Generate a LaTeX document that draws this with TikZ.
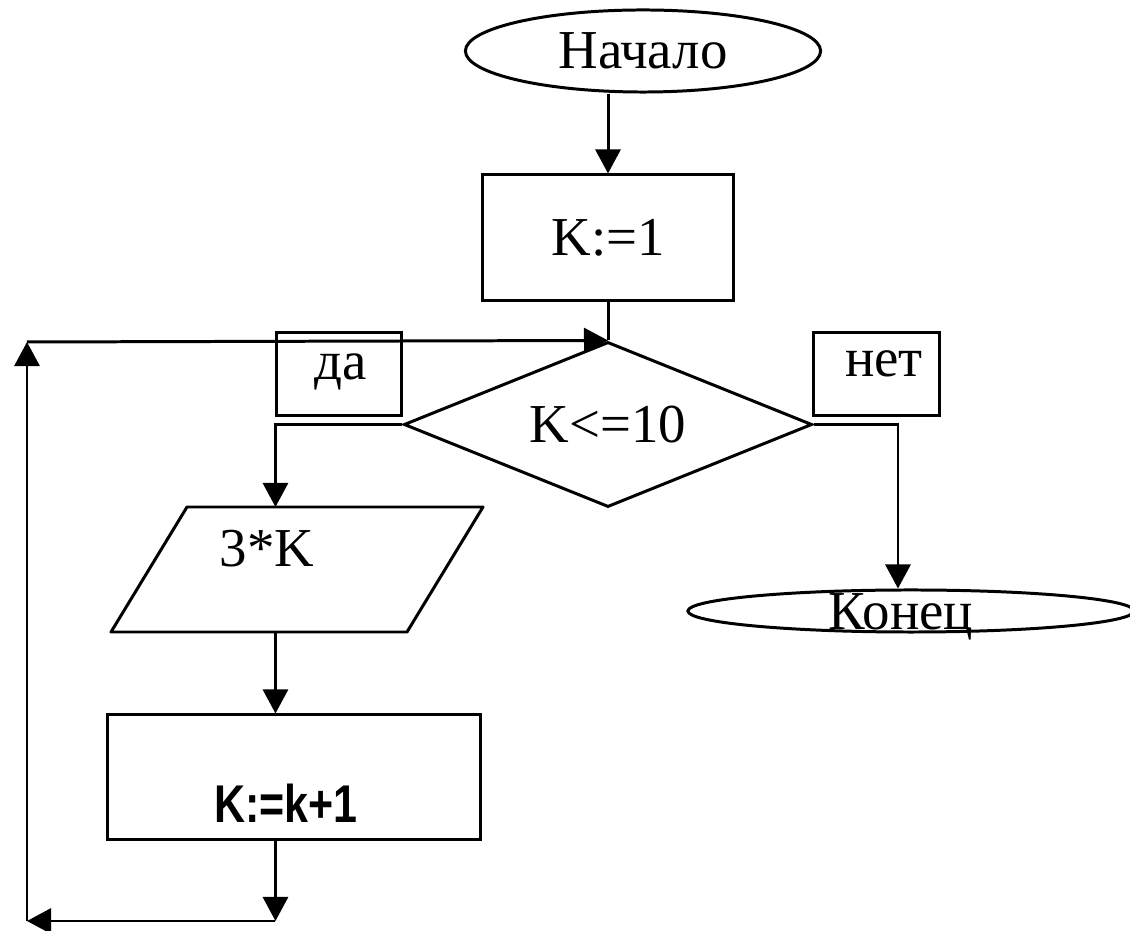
\documentclass[tikz,border=0pt]{standalone}
\usepackage{fontspec}
\setmainfont{Liberation Serif}
\newfontfamily\arialfont{Liberation Sans}
\usetikzlibrary{shapes.geometric,arrows.meta}
\begin{document}
\begin{tikzpicture}[x=0.01cm,y=-0.01cm, line width=0.85pt,
  txt/.style={font=\fontsize{15.6}{18}\selectfont, inner sep=0},
  arr/.style={-{Triangle[length=0.24cm,width=0.25cm]}},
  boxed/.style={draw, rectangle, inner sep=0},
  term/.style={draw, ellipse, inner sep=0},
]
\useasboundingbox (0,0) rectangle (1130,931);
\fill[white] (0,0) rectangle (1130,931);

% terminals
\node[term, txt, minimum width=3.55cm, minimum height=0.82cm] (start) at (643,51) {Начало};
\node[term, minimum width=4.46cm, minimum height=0.42cm] (end) at (911,611) {};
\node[txt, anchor=base] (endtxt) at (901,630) {Конец};

% process boxes
\node[boxed, txt, minimum width=2.51cm, minimum height=1.25cm] (k1) at (608,237.5) {K:=1};
\node[boxed, minimum width=3.72cm, minimum height=1.24cm] (inc) at (294,777) {};
\node[anchor=base, inner sep=0, font=\arialfont\bfseries\fontsize{15.1}{18}\selectfont] (inctxt) at (286,823) {\scalebox{0.81}[1]{K:=k+1}};

% decision
\node[draw, diamond, txt, aspect=2.47, minimum width=4.08cm, minimum height=1.65cm] (cond) at (608,424.5) {K<=10};

% labels in boxes
\node[boxed, minimum width=1.24cm, minimum height=0.82cm] (da) at (339,374) {};
\node[txt, anchor=base] (datxt) at (341,380) {да};
\node[boxed, minimum width=1.25cm, minimum height=0.82cm] (net) at (876.5,374) {};
\node[txt, anchor=base] (nettxt) at (884,377) {нет};

% output parallelogram
\coordinate (ptl) at (187,507);
\coordinate (ptr) at (483,507);
\coordinate (pbr) at (407,632);
\coordinate (pbl) at (111,632);
\draw[line join=round] (ptl) -- (ptr) -- (pbr) -- (pbl) -- cycle;
\node[txt, anchor=base] (outtxt) at (267,567) {3*K};

% connectors
\draw[arr] (k1.north |- start.south) -- (k1.north);
\draw (k1.south) -- (cond.north);
\draw[arr] (cond.west) -| (da.west |- ptl);
\draw[arr] (da.west |- pbl) -- (da.west |- inc.north);
\draw[arr] (cond.east) -| ([xshift=-0.13cm]end.north);

\coordinate (c1) at (da.west |- 0,921);
\coordinate (c2) at (27,921);
\coordinate (c3) at (27,342);
\draw[arr] (da.west |- inc.south) -- (c1);
\draw[arr] (c1) -- (c2);
\draw[arr] (c2) -- (c3);
\draw[arr] (c3) -- (cond.north);
\end{tikzpicture}
\end{document}
